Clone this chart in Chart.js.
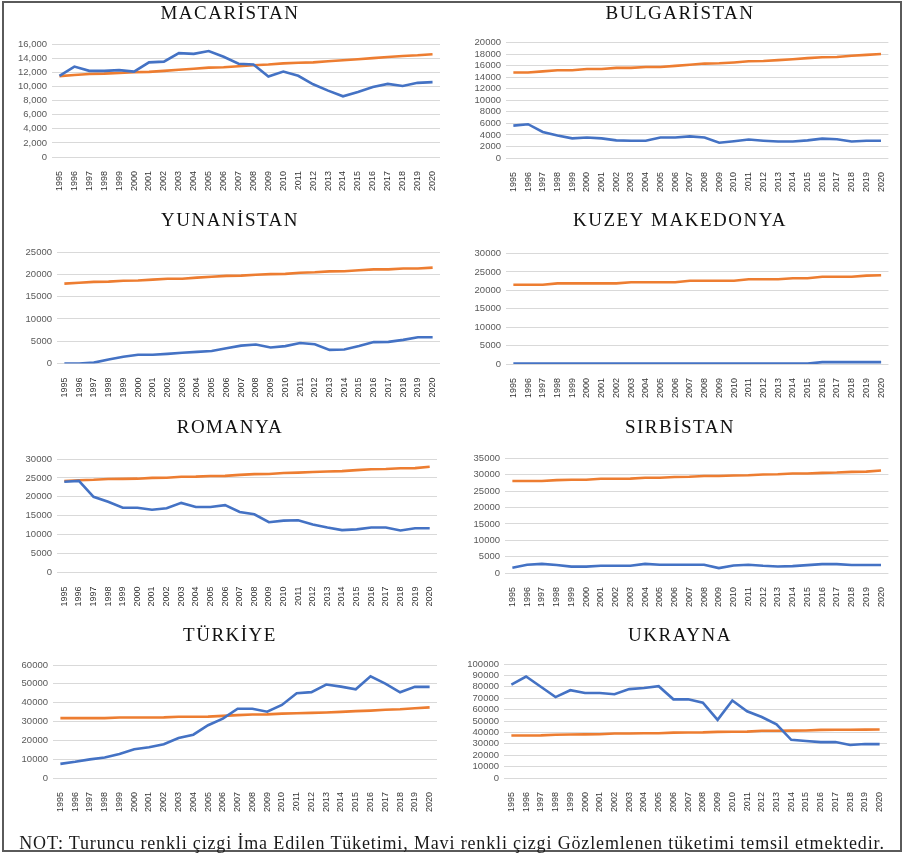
<!DOCTYPE html>
<html lang="tr">
<head>
<meta charset="utf-8">
<title>İma Edilen ve Gözlemlenen Tüketim</title>
<script src="https://cdn.jsdelivr.net/npm/chart.js@4.4.1/dist/chart.umd.min.js"></script>
<style>
  html, body { margin: 0; padding: 0; background: #fff; }
  #page { position: relative; width: 904px; height: 854px; overflow: hidden; background: #fff; }
  #frame { position: absolute; left: 2px; top: 1px; width: 896px; height: 847px; border: 2px solid #5a5a5a; pointer-events: none; }
  canvas { position: absolute; }
  #note { position: absolute; left: 0; top: 832px; width: 904px; text-align: center; white-space: nowrap;
          font: 18px "Liberation Serif", serif; letter-spacing: 0.85px; color: #1a1a1a; line-height: 22px; }
</style>
</head>
<body>
<div id="page">
  <canvas id="macaristan" width="444" height="200"></canvas>
  <canvas id="bulgaristan" width="442" height="200"></canvas>
  <canvas id="yunanistan" width="444" height="210"></canvas>
  <canvas id="makedonya" width="442" height="210"></canvas>
  <canvas id="romanya" width="444" height="205"></canvas>
  <canvas id="sirbistan" width="442" height="205"></canvas>
  <canvas id="turkiye" width="444" height="215"></canvas>
  <canvas id="ukrayna" width="442" height="215"></canvas>
  <div id="frame"></div>
  <div id="note">NOT: Turuncu renkli çizgi İma Edilen Tüketimi, Mavi renkli çizgi Gözlemlenen tüketimi temsil etmektedir.</div>
</div>
<script>
// years on the x axis
const years = ['1995', '1996', '1997', '1998', '1999', '2000', '2001', '2002', '2003', '2004', '2005', '2006', '2007',
               '2008', '2009', '2010', '2011', '2012', '2013', '2014', '2015', '2016', '2017', '2018', '2019', '2020'];

// orange = implied consumption, blue = observed consumption
const macaristanImplied = [11450, 11600, 11750, 11800, 11900, 12000, 12050, 12200, 12350, 12500, 12650, 12700, 12850,
                           13000, 13100, 13250, 13350, 13400, 13550, 13700, 13850, 14000, 14150, 14300, 14400, 14550];
const macaristanObserved = [11500, 12800, 12200, 12200, 12300, 12100, 13400, 13500, 14700, 14600, 15000, 14200, 13200,
                            13100, 11400, 12100, 11500, 10300, 9400, 8600, 9200, 9900, 10350, 10050, 10500, 10600];

const bulgaristanImplied = [14800, 14800, 15000, 15200, 15200, 15400, 15400, 15600, 15600, 15750, 15750, 15950, 16150,
                            16350, 16400, 16550, 16750, 16800, 16950, 17100, 17300, 17450, 17500, 17700, 17850, 18000];
const bulgaristanObserved = [5600, 5850, 4500, 3900, 3400, 3550, 3400, 3050, 3000, 3000, 3550, 3550, 3750,
                             3550, 2650, 2900, 3200, 3000, 2850, 2850, 3050, 3350, 3250, 2850, 3000, 3000];

const yunanistanImplied = [17900, 18100, 18300, 18350, 18550, 18600, 18800, 19000, 19000, 19250, 19450, 19650, 19700,
                           19900, 20050, 20100, 20350, 20450, 20650, 20700, 20900, 21100, 21100, 21300, 21300, 21500];
const yunanistanObserved = [0, 0, 200, 900, 1500, 1950, 1950, 2150, 2400, 2600, 2800, 3400, 4000,
                            4250, 3600, 3900, 4600, 4300, 3050, 3150, 3900, 4800, 4850, 5300, 5900, 5900];

const makedonyaImplied = [21500, 21500, 21500, 21900, 21900, 21900, 21900, 21900, 22200, 22200, 22200, 22200, 22600,
                          22600, 22600, 22600, 23000, 23000, 23000, 23300, 23300, 23700, 23700, 23700, 24000, 24100];
const makedonyaObserved = [100, 100, 100, 100, 100, 100, 100, 100, 100, 100, 100, 100, 100,
                           100, 100, 100, 100, 100, 100, 100, 100, 500, 500, 500, 500, 500];

const romanyaImplied = [24200, 24400, 24500, 24700, 24750, 24800, 25000, 25050, 25300, 25350, 25500, 25550, 25800,
                        26000, 26050, 26300, 26400, 26550, 26700, 26800, 27050, 27300, 27350, 27550, 27600, 27950];
const romanyaObserved = [24000, 24200, 20000, 18700, 17100, 17100, 16600, 17000, 18400, 17300, 17300, 17800, 16000,
                         15400, 13300, 13700, 13800, 12700, 11900, 11200, 11400, 11900, 11900, 11100, 11700, 11700];

const sirbistanImplied = [28100, 28100, 28100, 28400, 28500, 28500, 28800, 28800, 28850, 29100, 29100, 29350, 29400,
                          29650, 29650, 29800, 29900, 30100, 30200, 30400, 30400, 30600, 30700, 30900, 31000, 31350];
const sirbistanObserved = [1600, 2500, 2800, 2450, 1950, 1950, 2200, 2200, 2200, 2800, 2500, 2500, 2500,
                           2500, 1500, 2300, 2500, 2200, 2000, 2100, 2400, 2700, 2700, 2450, 2450, 2450];

const turkiyeImplied = [31800, 31800, 31800, 31800, 32100, 32100, 32100, 32200, 32500, 32500, 32600, 33000, 33400,
                        33700, 33800, 34200, 34400, 34600, 34800, 35100, 35500, 35800, 36200, 36500, 37000, 37500];
const turkiyeObserved = [7500, 8600, 9900, 10900, 12800, 15300, 16300, 17900, 21200, 23000, 28000, 31500, 36800,
                         36800, 35200, 38800, 45000, 45600, 49600, 48500, 47100, 54000, 50100, 45500, 48400, 48400];

const ukraynaImplied = [37300, 37300, 37400, 38000, 38200, 38300, 38400, 39000, 39100, 39200, 39300, 39800, 39900,
                        40000, 40500, 40600, 40700, 41400, 41500, 41600, 41700, 42200, 42300, 42300, 42400, 42500];
const ukraynaObserved = [82000, 89000, 80000, 71000, 77000, 74500, 74500, 73500, 78000, 79000, 80500, 69000, 69000,
                         66000, 51000, 68000, 58500, 53500, 47000, 33500, 32500, 31500, 31500, 29000, 29800, 29700];

const ORANGE = '#ED7D31';
const BLUE = '#4472C4';

// canvas boxes of the two columns; titles are centred on c
const LEFT_COL = { cx: 6, w: 444, c: 230 };
const RIGHT_COL = { cx: 456, w: 442, c: 680 };

// draws the panel title at a fixed spot (the built-in title can only centre on the whole box)
const panelTitle = {
    id: 'panelTitle',
    afterDraw(chart, args, opts) {
        const ctx = chart.ctx;
        ctx.save();
        ctx.font = opts.font;
        ctx.letterSpacing = opts.spacing;
        ctx.fillStyle = opts.color;
        ctx.textAlign = 'center';
        ctx.textBaseline = 'middle';
        ctx.fillText(opts.text, opts.x, opts.y);
        ctx.restore();
    }
};

function makeChart(id, title, implied, observed, yMax, yStep, box) {
    const col = box.col;
    const canvas = document.getElementById(id);
    canvas.style.left = col.cx + 'px';
    canvas.style.top = box.cy + 'px';

    const pr = col.cx + col.w - box.R;
    const yW = box.L - col.cx;
    const xH = box.cy + canvas.height - box.B;

    return new Chart(canvas.getContext('2d'), {
        type: 'line',
        data: {
            labels: years,
            datasets: [{
                label: 'Gözlemlenen tüketim',
                data: observed,
                borderColor: BLUE,
                borderWidth: 2.6,
                pointRadius: 0,
                tension: 0,
                fill: false
            }, {
                label: 'İma edilen tüketim',
                data: implied,
                borderColor: ORANGE,
                borderWidth: 2.6,
                pointRadius: 0,
                tension: 0,
                fill: false
            }]
        },
        plugins: [panelTitle],
        options: {
            responsive: false,
            animation: false,
            layout: { padding: { left: 0, right: pr, top: box.T - box.cy, bottom: 0 } },
            scales: {
                x: {
                    offset: true,
                    grid: { display: false },
                    border: { display: false },
                    ticks: {
                        autoSkip: false,
                        minRotation: 90,
                        maxRotation: 90,
                        padding: 6,
                        color: '#333333',
                        font: { family: '"Liberation Sans Narrow", "Liberation Sans", sans-serif', size: 9 }
                    },
                    afterFit: function(s) { s.height = xH; }
                },
                y: {
                    min: 0,
                    max: yMax,
                    grid: { color: '#D9D9D9', lineWidth: 1, drawTicks: false },
                    border: { display: false },
                    ticks: {
                        autoSkip: false,
                        stepSize: yStep,
                        padding: 5,
                        color: '#595959',
                        font: { family: '"Liberation Sans", sans-serif', size: 9.5 },
                        callback: function(value) {
                            return box.comma ? value.toLocaleString('en-US') : String(value);
                        }
                    },
                    afterFit: function(s) { s.width = yW; }
                }
            },
            plugins: {
                legend: { display: false },
                tooltip: { enabled: false },
                panelTitle: {
                    text: title,
                    x: col.c - col.cx,
                    y: box.titleY - box.cy,
                    font: '19px "Liberation Serif", serif',
                    spacing: '1.5px',
                    color: '#111111'
                }
            }
        }
    });
}

makeChart('macaristan', 'MACARİSTAN', macaristanImplied, macaristanObserved, 16000, 2000,
    { col: LEFT_COL, cy: 0, titleY: 14.5, T: 44, B: 157, L: 52, R: 440, comma: true });
makeChart('bulgaristan', 'BULGARİSTAN', bulgaristanImplied, bulgaristanObserved, 20000, 2000,
    { col: RIGHT_COL, cy: 0, titleY: 14.5, T: 42.5, B: 158, L: 506, R: 889 });
makeChart('yunanistan', 'YUNANİSTAN', yunanistanImplied, yunanistanObserved, 25000, 5000,
    { col: LEFT_COL, cy: 200, titleY: 221.5, T: 252, B: 363.5, L: 57, R: 440 });
makeChart('makedonya', 'KUZEY MAKEDONYA', makedonyaImplied, makedonyaObserved, 30000, 5000,
    { col: RIGHT_COL, cy: 200, titleY: 221.5, T: 253.5, B: 364, L: 506, R: 894 });
makeChart('romanya', 'ROMANYA', romanyaImplied, romanyaObserved, 30000, 5000,
    { col: LEFT_COL, cy: 410, titleY: 428.5, T: 459, B: 572.5, L: 57, R: 437 });
makeChart('sirbistan', 'SIRBİSTAN', sirbistanImplied, sirbistanObserved, 35000, 5000,
    { col: RIGHT_COL, cy: 410, titleY: 428.5, T: 458.5, B: 573, L: 505, R: 889 });
makeChart('turkiye', 'TÜRKİYE', turkiyeImplied, turkiyeObserved, 60000, 10000,
    { col: LEFT_COL, cy: 615, titleY: 636.5, T: 665, B: 778, L: 53, R: 437 });
makeChart('ukrayna', 'UKRAYNA', ukraynaImplied, ukraynaObserved, 100000, 10000,
    { col: RIGHT_COL, cy: 615, titleY: 636.5, T: 664, B: 778, L: 504, R: 887 });
</script>
</body>
</html>
